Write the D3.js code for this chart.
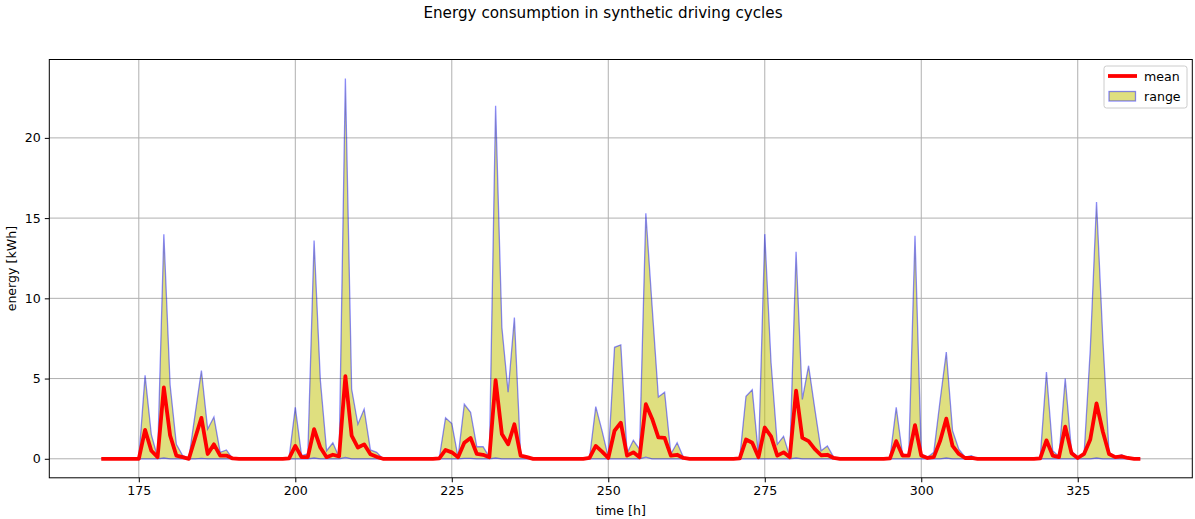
<!DOCTYPE html>
<html>
<head>
<meta charset="utf-8">
<script src="https://cdn.jsdelivr.net/npm/d3@7"></script>
<style>
  html, body { margin: 0; padding: 0; background: #fff; }
  svg { display: block; font-family: "DejaVu Sans", sans-serif; }
</style>
</head>
<body>
<svg id="chart" width="1195" height="519"></svg>
<script>
// ---- data (hourly, starting at hour 169) ----
const startHour = 169;

const rangeMax = [
  0,0,0,0,0,0,0,5.2,1.5,0.1,              // 169-178
  14.0,4.6,0.9,0.2,0.05,2.8,5.5,1.85,2.6,0.4, // 179-188
  0.55,0,0,0,0,0,0,0,0,0,                 // 189-198
  0.05,3.2,0.2,0.3,13.6,4.9,0.5,1.0,0.1,23.7, // 199-208
  4.35,2.15,3.1,0.55,0.4,0,0,0,0,0,       // 209-218
  0,0,0,0,0.05,2.55,2.2,0.1,3.4,2.9,      // 219-228
  0.75,0.75,0.1,22.0,8.2,4.15,8.8,0.2,0.1,0, // 229-238
  0,0,0,0,0,0,0,0,0.05,3.25,              // 239-248
  1.75,0.1,6.95,7.1,0.35,1.15,0.6,15.3,9.5,3.85, // 249-258
  4.15,0.3,1.0,0.1,0,0,0,0,0,0,           // 259-268
  0,0,0.05,3.9,4.3,0.2,14.0,6.0,0.9,1.4,  // 269-278
  0.15,12.9,3.7,5.8,3.1,0.5,0.8,0.1,0,0,  // 279-288
  0,0,0,0,0,0,0.05,3.2,0.3,0.2,           // 289-298
  13.9,0.3,0.1,0.4,3.6,6.65,1.75,0.6,0.1,0.2, // 299-308
  0,0,0,0,0,0,0,0,0,0,                    // 309-318
  0.05,5.4,0.5,0.15,5.0,0.5,0.1,0.2,6.8,16.0, // 319-328
  7.5,0.4,0.1,0.25,0.05,0,0               // 329-335
];

const rangeMin = [
  0,0,0,0,0,0,0,0,0,0,
  0.05,0,0,0,0,0,0.03,0,0,0,
  0,0,0,0,0,0,0,0,0,0,
  0,0,0,0,0.05,0,0,0,0,0.08,
  0,0,0,0,0,0,0,0,0,0,
  0,0,0,0,0,0,0,0,0.03,0.03,
  0,0,0,0.05,0,0,0,0,0,0,
  0,0,0,0,0,0,0,0,0,0,
  0,0,0,0,0,0,0,0.1,0,0,
  0,0,0,0,0,0,0,0,0,0,
  0,0,0,0,0,0,0,0,0,0,
  0,0.05,0,0,0,0,0,0,0,0,
  0,0,0,0,0,0,0,0,0,0,
  0,0,0,0,0,0.05,0,0,0,0,
  0,0,0,0,0,0,0,0,0,0,
  0,0,0,0,0,0,0,0,0,0.05,
  0,0,0,0,0,0,0
];

const meanValues = [
  0,0,0,0,0,0,0,1.8,0.5,0.1,              // 169-178
  4.45,1.45,0.2,0.1,0,1.3,2.55,0.3,0.9,0.2, // 179-188
  0.2,0.02,0,0,0,0,0,0,0,0,               // 189-198
  0.02,0.8,0.1,0.1,1.85,0.7,0.1,0.25,0.15,5.15, // 199-208
  1.45,0.7,0.9,0.28,0.12,0,0,0,0,0,       // 209-218
  0,0,0,0,0.02,0.55,0.4,0.1,1.0,1.3,      // 219-228
  0.3,0.25,0.1,4.9,1.55,0.9,2.15,0.2,0.1,0, // 229-238
  0,0,0,0,0,0,0,0,0.05,0.8,               // 239-248
  0.45,0.05,1.75,2.25,0.2,0.4,0.1,3.4,2.5,1.33, // 249-258
  1.3,0.2,0.25,0.05,0,0,0,0,0,0,          // 259-268
  0,0,0.02,1.2,1.0,0.1,1.95,1.4,0.2,0.4,  // 269-278
  0.1,4.25,1.3,1.1,0.6,0.22,0.25,0.05,0,0, // 279-288
  0,0,0,0,0,0,0.02,1.1,0.2,0.2,           // 289-298
  2.1,0.2,0.05,0.1,1.1,2.5,0.8,0.3,0.05,0.05, // 299-308
  0,0,0,0,0,0,0,0,0,0,                    // 309-318
  0.02,1.15,0.2,0.1,2.0,0.35,0.05,0.3,1.2,3.45, // 319-328
  1.7,0.3,0.1,0.15,0.05,0,0               // 329-335
];

const xTicks = [175, 200, 225, 250, 275, 300, 325];
const yTicks = [0, 5, 10, 15, 20];
const titleText = "Energy consumption in synthetic driving cycles";
const xLabel = "time [h]";
const yLabel = "energy [kWh]";
const legendLabels = ["mean", "range"];

// ---- layout ----
const svg = d3.select("#chart");
const L = 49.3, R = 1192.3, T = 59.5, B = 477.8;
const FS = 12.6;

const data = meanValues.map((m, i) => ({
  h: startHour + i, mean: m, lo: rangeMin[i], hi: rangeMax[i]
}));

const hMin = d3.min(data, d => d.h), hMax = d3.max(data, d => d.h);
const xPad = (hMax - hMin) * 0.05;
const yHi = d3.max(rangeMax), yLo = 0;
const yPad = (yHi - yLo) * 0.05;

const x = d3.scaleLinear().domain([hMin - xPad, hMax + xPad]).range([L, R]);
const y = d3.scaleLinear().domain([yLo - yPad, yHi + yPad]).range([B, T]);

// grid
const grid = svg.append("g");
grid.selectAll(".gx").data(xTicks).join("line")
  .attr("x1", d => x(d)).attr("x2", d => x(d)).attr("y1", T).attr("y2", B)
  .attr("stroke", "#b0b0b0").attr("stroke-width", 1);
grid.selectAll(".gy").data(yTicks).join("line")
  .attr("y1", d => y(d)).attr("y2", d => y(d)).attr("x1", L).attr("x2", R)
  .attr("stroke", "#b0b0b0").attr("stroke-width", 1);

// range area
const area = d3.area().x(d => x(d.h)).y0(d => y(d.lo)).y1(d => y(d.hi));
svg.append("path").datum(data)
  .attr("d", area)
  .attr("fill", "rgba(191,191,0,0.5)")
  .attr("stroke", "rgba(0,0,255,0.45)")
  .attr("stroke-width", 1.3);

// mean line
const line = d3.line().x(d => x(d.h)).y(d => y(d.mean));
svg.append("path").datum(data)
  .attr("d", line)
  .attr("fill", "none")
  .attr("stroke", "#ff0000")
  .attr("stroke-width", 3.8)
  .attr("stroke-linejoin", "round");

// frame
svg.append("rect").attr("x", L).attr("y", T).attr("width", R - L).attr("height", B - T)
  .attr("fill", "none").attr("stroke", "#000").attr("stroke-width", 1);

// axes
const xAxis = d3.axisBottom(x).tickValues(xTicks).tickSize(4.5).tickPadding(4).tickFormat(d3.format("d"));
const gx = svg.append("g").attr("transform", `translate(0,${B})`).call(xAxis);
gx.select(".domain").remove();
gx.selectAll("line").attr("stroke", "#000").attr("stroke-width", 1);
gx.selectAll("text").attr("font-size", FS).attr("fill", "#000").attr("font-family", "DejaVu Sans");

const yAxis = d3.axisLeft(y).tickValues(yTicks).tickSize(4.5).tickPadding(4).tickFormat(d3.format("d"));
const gy = svg.append("g").attr("transform", `translate(${L},0)`).call(yAxis);
gy.select(".domain").remove();
gy.selectAll("line").attr("stroke", "#000").attr("stroke-width", 1);
gy.selectAll("text").attr("font-size", FS).attr("fill", "#000").attr("font-family", "DejaVu Sans");

// labels
svg.append("text").attr("x", (L + R) / 2).attr("y", 515).attr("text-anchor", "middle")
  .attr("font-size", FS).text(xLabel);
svg.append("text").attr("transform", `translate(16,${(T + B) / 2}) rotate(-90)`)
  .attr("text-anchor", "middle").attr("font-size", FS).text(yLabel);
svg.append("text").attr("x", 603).attr("y", 18).attr("text-anchor", "middle")
  .attr("font-size", 15.2).text(titleText);

// legend
const lg = svg.append("g");
lg.append("rect").attr("x", 1104).attr("y", 66).attr("width", 83).attr("height", 42)
  .attr("rx", 2.5).attr("fill", "rgba(255,255,255,0.8)").attr("stroke", "#cccccc").attr("stroke-width", 1);
lg.append("line").attr("x1", 1108).attr("x2", 1137).attr("y1", 76).attr("y2", 76)
  .attr("stroke", "#ff0000").attr("stroke-width", 3.8);
lg.append("rect").attr("x", 1109).attr("y", 91.5).attr("width", 26.5).attr("height", 9.5)
  .attr("fill", "rgba(191,191,0,0.5)").attr("stroke", "rgba(0,0,255,0.45)").attr("stroke-width", 1.3);
lg.selectAll(".lt").data(legendLabels).join("text")
  .attr("x", 1144).attr("y", (d, i) => 80.5 + i * 20)
  .attr("font-size", FS).text(d => d);
</script>
</body>
</html>
